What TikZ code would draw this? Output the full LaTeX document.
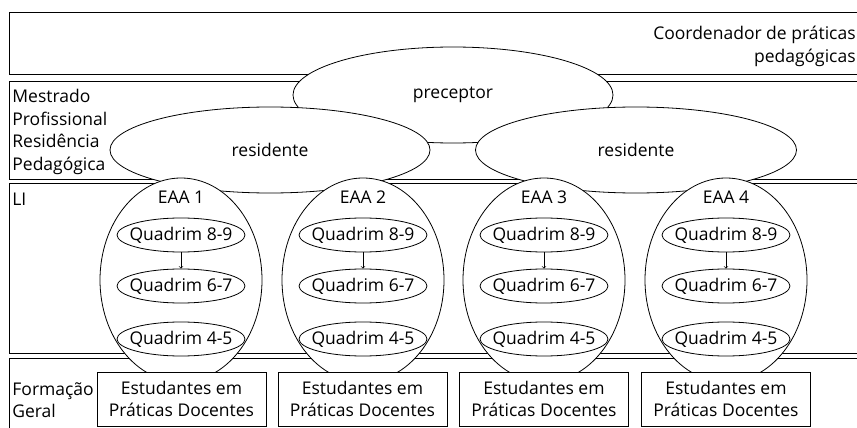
\documentclass[tikz,border=0pt]{standalone}
\usepackage{fontspec}
\setmainfont{Open Sans}
\usetikzlibrary{shapes.geometric}

\begin{document}
\begin{tikzpicture}[x=1pt,y=-1pt,line width=0.8pt,
    every node/.style={font=\fontsize{17.5}{22.5}\selectfont},
    band/.style={draw,fill=white},
    oval/.style={ellipse,draw,fill=white,inner sep=0pt},
    turma/.style={oval,inner xsep=-8pt,minimum width=128pt,minimum height=34pt},
    grupo/.style={draw,fill=white,align=center,minimum width=169pt,minimum height=54pt,inner sep=0pt}]
  \useasboundingbox (0,0) rectangle (857,428);
  \clip (0,0) rectangle (857,428);
  % faixas
  \draw[band] (9,12) rectangle (880,74);
  \draw[band] (9,81) rectangle (880,179);
  \draw[band] (9,183) rectangle (880,353);
  \draw[band] (9,358) rectangle (880,450);
  \node[anchor=east,align=right,inner sep=0pt] (T) at (856,46.5) {Coordenador de práticas\\pedagógicas};
  \node[anchor=west,align=left,inner sep=0pt] (M) at (12,132) {Mestrado\\Profissional\\Residência\\Pedagógica};
  \node[anchor=base west,inner sep=0pt] (LI) at (12,205) {LI};
  \node[anchor=west,align=left,inner sep=0pt] (F) at (12,400) {Formação\\Geral};
  % preceptor e residentes
  \node[oval,minimum width=320pt,minimum height=96pt] (P) at (453,95) {preceptor};
  \node[oval,minimum width=320pt,minimum height=86pt] (R1) at (270,150) {residente};
  \node[oval,minimum width=321pt,minimum height=86pt] (R2) at (636,150) {residente};
  % EAA
  \node[oval,minimum width=162pt,minimum height=204pt] (E1) at (181,280) {};
  \node[oval,minimum width=162pt,minimum height=204pt] (E2) at (363,280) {};
  \node[oval,minimum width=162pt,minimum height=204pt] (E3) at (544,280) {};
  \node[oval,minimum width=162pt,minimum height=204pt] (E4) at (726,280) {};
  \node[anchor=base] (L1) at (E1.center |- 0,203) {EAA 1};
  \node[anchor=base] (L2) at (E2.center |- 0,203) {EAA 2};
  \node[anchor=base] (L3) at (E3.center |- 0,203) {EAA 3};
  \node[anchor=base] (L4) at (E4.center |- 0,203) {EAA 4};
  \node[turma] (A1) at (181,235) {Quadrim 8-9};
  \node[turma] (B1) at (181,286) {Quadrim 6-7};
  \node[turma] (C1) at (181,339) {Quadrim 4-5};
  \node[turma] (A2) at (363,235) {Quadrim 8-9};
  \node[turma] (B2) at (363,286) {Quadrim 6-7};
  \node[turma] (C2) at (363,339) {Quadrim 4-5};
  \node[turma] (A3) at (544,235) {Quadrim 8-9};
  \node[turma] (B3) at (544,286) {Quadrim 6-7};
  \node[turma] (C3) at (544,339) {Quadrim 4-5};
  \node[turma] (A4) at (726,235) {Quadrim 8-9};
  \node[turma] (B4) at (726,286) {Quadrim 6-7};
  \node[turma] (C4) at (726,339) {Quadrim 4-5};
  \draw[->,line width=0.7pt] (A1) -- (B1);
  \draw[->,line width=0.7pt] (A2) -- (B2);
  \draw[->,line width=0.7pt] (A3) -- (B3);
  \draw[->,line width=0.7pt] (A4) -- (B4);
  % estudantes
  \node[grupo] (S1) at (181.5,399) {Estudantes em\\Práticas Docentes};
  \node[grupo] (S2) at (362.5,399) {Estudantes em\\Práticas Docentes};
  \node[grupo] (S3) at (544,399) {Estudantes em\\Práticas Docentes};
  \node[grupo] (S4) at (726,399) {Estudantes em\\Práticas Docentes};
\end{tikzpicture}
\end{document}
